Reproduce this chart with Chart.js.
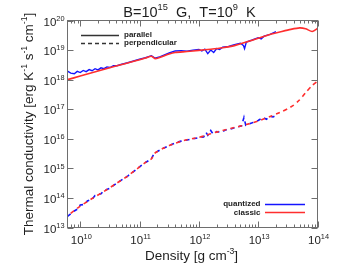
<!DOCTYPE html>
<html><head><meta charset="utf-8">
<script src="https://cdn.jsdelivr.net/npm/chart.js@4/dist/chart.umd.min.js"></script>
<style>html,body{margin:0;padding:0;background:#fff;}canvas{display:block;}</style>
</head><body>
<canvas id="c" width="338" height="271"></canvas>
<script>
// ---- data (density in g cm^-3, conductivity in erg K^-1 s^-1 cm^-1) ----
const parClassicDensity = [6.1e9,1e10,2e10,4e10,8e10,1.26e11,1.58e11,1.82e11,2.24e11,3.16e11,3.98e11,6.31e11,1e12,1.58e12,2.51e12,3.98e12,6.31e12,1e13,1.58e13,2.51e13,3.55e13,5.01e13,6.31e13,8.13e13,1e14];
const parClassicK = [1.0e18,1.318e18,1.95e18,2.884e18,4.169e18,5.37e18,6.166e18,5.129e18,5.754e18,7.413e18,8.318e18,8.913e18,9.772e18,1.072e19,1.202e19,1.413e19,1.862e19,2.512e19,3.388e19,4.266e19,5.012e19,5.623e19,5.248e19,4.266e19,5.370e19];

const parQuantDensity = [6.1e9,6.92e9,7.94e9,8.91e9,1e10,1.122e10,1.259e10,1.413e10,1.585e10,1.778e10,1.995e10,2.239e10,2.512e10,2.818e10,3.162e10,3.631e10,4.169e10,5.012e10,6.31e10,7.943e10,1e11,1.259e11,1.585e11,1.82e11,2.239e11,3.162e11,3.981e11,5.012e11,6.31e11,7.943e11,1e12,1.122e12,1.259e12,1.413e12,1.585e12,1.778e12,1.995e12,2.239e12,2.512e12,3.162e12,3.981e12,5.012e12,5.623e12,5.888e12,6.31e12,7.943e12,1e13,1.122e13,1.259e13,1.585e13,1.995e13];
const parQuantK = [1.95e18,1.66e18,1.585e18,1.905e18,1.738e18,2.042e18,1.862e18,2.188e18,1.995e18,2.344e18,2.138e18,2.512e18,2.344e18,2.692e18,2.570e18,2.951e18,2.951e18,3.311e18,3.715e18,4.266e18,4.898e18,5.495e18,6.457e18,5.37e18,6.026e18,7.943e18,9.333e18,9.55e18,9.12e18,1e19,1.047e19,9.333e18,1.072e19,7.586e18,1e19,8.318e18,1.122e19,1.047e19,1.259e19,1.318e19,1.514e19,1.698e19,1.445e19,1.122e19,1.862e19,2.188e19,2.63e19,2.399e19,2.951e19,3.388e19,4.169e19];

const perpClassicDensity = [6.1e9,1e10,1.585e10,2.512e10,3.981e10,6.31e10,1e11,1.259e11,1.585e11,1.778e11,1.995e11,2.512e11,3.162e11,3.981e11,5.012e11,6.31e11,7.943e11,1e12,1.259e12,1.585e12,2.512e12,3.981e12,6.31e12,1e13,1.585e13,2.512e13,3.162e13,3.981e13,5.012e13,6.31e13,7.943e13,1e14];
const perpClassicK = [2.512e13,5.248e13,9.55e13,1.66e14,3.02e14,5.495e14,1.122e15,1.585e15,2.089e15,3.162e15,3.715e15,4.786e15,5.888e15,7.079e15,8.318e15,9.333e15,1.023e16,1.122e16,1.259e16,1.479e16,1.905e16,2.399e16,3.02e16,3.981e16,5.623e16,8.318e16,1.047e17,1.38e17,2.089e17,3.631e17,6.026e17,8.913e17];

const perpQuantDensity = [6.1e9,7.943e9,8.913e9,1e10,1.175e10,1.318e10,1.585e10,1.778e10,2.239e10,2.512e10,3.162e10,3.981e10,6.31e10,1e11,1.259e11,1.585e11,1.778e11,1.995e11,2.512e11,3.162e11,3.981e11,5.012e11,6.31e11,7.943e11,1e12,1.202e12,1.318e12,1.413e12,1.585e12,1.738e12,1.995e12,2.399e12,2.818e12,3.548e12,4.467e12,5.248e12,5.754e12,6.166e12,7.943e12,1e13,1.202e13,1.38e13,1.585e13,1.778e13,2.138e13];
const perpQuantK = [2.399e13,3.631e13,4.169e13,5.754e13,6.026e13,7.943e13,9.12e13,1.202e14,1.38e14,1.778e14,2.138e14,3.02e14,5.495e14,1.122e15,1.585e15,2.089e15,3.311e15,3.715e15,4.786e15,5.888e15,7.244e15,8.318e15,9.12e15,1e16,1.096e16,1.148e16,1.66e16,1.318e16,1.905e16,1.445e16,1.738e16,1.66e16,1.995e16,2.188e16,2.512e16,2.754e16,5.248e16,2.884e16,3.467e16,4.169e16,5.248e16,4.571e16,5.754e16,5.495e16,6.607e16];

const xTickValues = [1e10,1e11,1e12,1e13,1e14];
const xTickLabels = ['10^{10}','10^{11}','10^{12}','10^{13}','10^{14}'];
const yTickValues = [1e13,1e14,1e15,1e16,1e17,1e18,1e19,1e20];
const yTickLabels = ['10^{13}','10^{14}','10^{15}','10^{16}','10^{17}','10^{18}','10^{19}','10^{20}'];
const xRange = [6.1e9, 1e14];
const yRange = [1e13, 1e20];

const titleText = 'B=10^{15}  G,  T=10^{9}  K';
const xTitle = 'Density [g cm^{-3}]';
const yTitle = 'Thermal conductivity [erg K^{-1} s^{-1} cm^{-1}]';
const styleLegend = ['parallel','perpendicular'];
const seriesLegend = ['quantized','classic'];

const BLUE = '#1414ff', RED = '#ff2e2e', AX = '#6e6e6e', TXT = '#1e1e1e';
const FONT = "'Liberation Sans', 'DejaVu Sans', sans-serif";

function pts(xs, ys){ return xs.map((x,i)=>({x:x, y:ys[i]})); }

// rich text with ^{...} superscripts, drawn at baseline y
function parseRich(s){
  const out = []; const re = /\^\{([^}]*)\}/g; let last = 0, m;
  while ((m = re.exec(s))) { if (m.index > last) out.push({t:s.slice(last,m.index), sup:false}); out.push({t:m[1], sup:true}); last = re.lastIndex; }
  if (last < s.length) out.push({t:s.slice(last), sup:false});
  return out;
}
function drawRich(ctx, s, x, y, size, align){
  const segs = parseRich(s); const supSize = size * 0.64;
  let w = 0;
  segs.forEach(g => { ctx.font = (g.sup ? supSize : size) + 'px ' + FONT; g.w = ctx.measureText(g.t).width; w += g.w; });
  let cx = align === 'center' ? x - w/2 : align === 'right' ? x - w : x;
  ctx.textAlign = 'left'; ctx.textBaseline = 'alphabetic';
  segs.forEach(g => {
    ctx.font = (g.sup ? supSize : size) + 'px ' + FONT;
    ctx.fillText(g.t, cx, g.sup ? y - size * 0.42 : y);
    cx += g.w;
  });
}

const framePlugin = {
  id: 'frame',
  afterDraw(chart){
    const {ctx, chartArea:a, scales:{x, y}} = chart;
    ctx.save();
    ctx.strokeStyle = AX; ctx.lineWidth = 1;
    ctx.strokeRect(a.left, a.top, a.right - a.left, a.bottom - a.top);
    ctx.beginPath();
    for (let e = 9; e <= 14; e++) {
      for (let m = 1; m <= 9; m++) {
        const v = m * Math.pow(10, e);
        if (v < x.min * 0.999 || v > x.max * 1.001) continue;
        const px = Math.round(x.getPixelForValue(v)) + 0.5;
        const len = m === 1 ? 6 : 3;
        ctx.moveTo(px, a.bottom); ctx.lineTo(px, a.bottom - len);
        ctx.moveTo(px, a.top); ctx.lineTo(px, a.top + len);
      }
    }
    yTickValues.forEach(v => {
      const py = Math.round(y.getPixelForValue(v)) + 0.5;
      ctx.moveTo(a.left, py); ctx.lineTo(a.left + 6, py);
      ctx.moveTo(a.right, py); ctx.lineTo(a.right - 6, py);
    });
    ctx.stroke();

    // tick labels
    ctx.fillStyle = TXT;
    xTickValues.forEach((v,i) => drawRich(ctx, xTickLabels[i], x.getPixelForValue(v) + 1, a.bottom + 16, 11.5, 'center'));
    yTickValues.forEach((v,i) => drawRich(ctx, yTickLabels[i], a.left - 3, y.getPixelForValue(v) + 5, 11.5, 'right'));

    // titles
    drawRich(ctx, titleText, (a.left + a.right) / 2 - 3, 16.5, 14.5, 'center');
    drawRich(ctx, xTitle, (a.left + a.right) / 2 - 1, 260, 13.5, 'center');
    ctx.save();
    ctx.translate(33, (a.top + a.bottom) / 2);
    ctx.rotate(-Math.PI / 2);
    drawRich(ctx, yTitle, 0, 0, 13.5, 'center');
    ctx.restore();

    // style legend (top-left)
    ctx.strokeStyle = '#333'; ctx.lineWidth = 1.5;
    ctx.beginPath(); ctx.setLineDash([]);
    ctx.moveTo(81, 35.5); ctx.lineTo(119, 35.5); ctx.stroke();
    ctx.beginPath(); ctx.setLineDash([4,3]);
    ctx.moveTo(81, 43.5); ctx.lineTo(119, 43.5); ctx.stroke();
    ctx.setLineDash([]);
    ctx.fillStyle = '#222';
    ctx.font = 'bold 8px ' + FONT;
    ctx.textBaseline = 'middle'; ctx.textAlign = 'left';
    ctx.fillText(styleLegend[0], 124, 35);
    ctx.fillText(styleLegend[1], 124, 43);

    // series legend (bottom-right)
    ctx.textAlign = 'right';
    ctx.fillText(seriesLegend[0], 260.5, 204);
    ctx.fillText(seriesLegend[1], 260.5, 212.5);
    ctx.lineWidth = 1.5;
    ctx.strokeStyle = BLUE; ctx.beginPath(); ctx.moveTo(265, 204.5); ctx.lineTo(305, 204.5); ctx.stroke();
    ctx.strokeStyle = RED; ctx.beginPath(); ctx.moveTo(265, 212.5); ctx.lineTo(305, 212.5); ctx.stroke();
    ctx.restore();
  }
};

new Chart(document.getElementById('c'), {
  type: 'line',
  data: {
    datasets: [
      { label: 'classic parallel', data: pts(parClassicDensity, parClassicK), borderColor: RED, borderWidth: 1.6, pointRadius: 0, tension: 0.2, order: 1 },
      { label: 'classic perpendicular', data: pts(perpClassicDensity, perpClassicK), borderColor: RED, borderWidth: 1.6, pointRadius: 0, tension: 0.2, borderDash: [4,4], borderDashOffset: 4, order: 1 },
      { label: 'quantized parallel', data: pts(parQuantDensity, parQuantK), borderColor: BLUE, borderWidth: 1.4, pointRadius: 0, tension: 0, order: 2 },
      { label: 'quantized perpendicular', data: pts(perpQuantDensity, perpQuantK), borderColor: BLUE, borderWidth: 1.6, pointRadius: 0, tension: 0, borderDash: [4,4], order: 2 }
    ]
  },
  options: {
    responsive: false,
    animation: false,
    devicePixelRatio: 1,
    layout: { padding: { top: 20.5, right: 20.5, left: 0, bottom: 0 } },
    plugins: { legend: { display: false }, tooltip: { enabled: false }, title: { display: false } },
    scales: {
      x: {
        type: 'logarithmic', min: xRange[0], max: xRange[1],
        grid: { display: false, drawTicks: false }, border: { display: false },
        afterBuildTicks: s => { s.ticks = xTickValues.map(v => ({ value: v })); },
        afterFit: s => { s.height = 43.5; },
        ticks: { display: false },
        title: { display: false, text: xTitle }
      },
      y: {
        type: 'logarithmic', min: yRange[0], max: yRange[1],
        grid: { display: false, drawTicks: false }, border: { display: false },
        afterBuildTicks: s => { s.ticks = yTickValues.map(v => ({ value: v })); },
        afterFit: s => { s.width = 67.5; },
        ticks: { display: false },
        title: { display: false, text: yTitle }
      }
    }
  },
  plugins: [framePlugin]
});
</script>
</body></html>
